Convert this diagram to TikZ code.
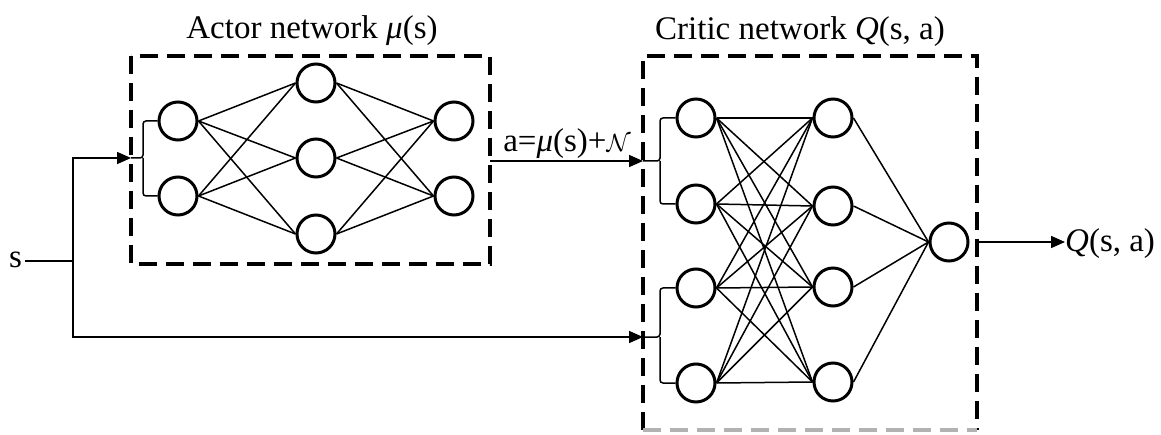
\documentclass[tikz,border=0pt]{standalone}
\usepackage{fontspec}
\setmainfont{Liberation Serif}
\usetikzlibrary{arrows.meta}
\begin{document}
\begin{tikzpicture}[x=1pt,y=-1pt,
  neuron/.style={circle,draw,line width=3pt,minimum size=38pt,inner sep=0pt},
  wire/.style={line width=1.5pt},
  arr/.style={line width=1.5pt,-{Triangle[length=14pt,width=12pt]}},
  dbox/.style={line width=3.4pt,dash pattern=on 18pt off 9pt},
  lbl/.style={font=\fontsize{33}{38}\selectfont,inner sep=0pt,anchor=base}]
\useasboundingbox (0,0) rectangle (1161,435);
% boxes
\draw[dbox] (131,56) rectangle (490,264);
\draw[dbox] (643,430) -- (643,56) -- (977,56) -- (977,430);
\draw[dbox,black!30] (643,430) -- (977,430);
% titles
\node[lbl] (tA) at (312,39) {Actor network \textit{μ}(s)};
\node[lbl] (tC) at (800,40) {Critic network \textit{Q}(s, a)};
% actor nodes
\node[neuron] (ai1) at (178,121) {};
\node[neuron] (ai2) at (178,196) {};
\node[neuron] (ah1) at (316,83) {};
\node[neuron] (ah2) at (316,158) {};
\node[neuron] (ah3) at (316,234) {};
\node[neuron] (ao1) at (454,121) {};
\node[neuron] (ao2) at (454,196) {};
\foreach \i in {1,2}{\foreach \h in {1,2,3}{
  \draw[wire] (ai\i.east) -- (ah\h.west);
  \draw[wire] (ah\h.east) -- (ao\i.west);}}
% critic nodes
\node[neuron] (ci1) at (696,118) {};
\node[neuron] (ci2) at (696,204) {};
\node[neuron] (ci3) at (696,288) {};
\node[neuron] (ci4) at (696,383) {};
\node[neuron] (ch1) at (833,118) {};
\node[neuron] (ch2) at (833,206) {};
\node[neuron] (ch3) at (833,287) {};
\node[neuron] (ch4) at (833,382) {};
\node[neuron] (co) at (949,242) {};
\foreach \i in {1,...,4}{\foreach \h in {1,...,4}{
  \draw[wire] (ci\i.east) -- (ch\h.west);}
  \draw[wire] (ch\i.east) -- (co.west);}
% input s
\node[lbl] (s) at (15.5,268) {s};
\coordinate (sj) at (73,261);
\coordinate (aIn) at (131,158);
\coordinate (aBr) at (143,158);
\coordinate (cIn1) at (643,161);
\coordinate (cBr1) at (660,161);
\coordinate (cIn2) at (643,337);
\coordinate (cBr2) at (660,337);
\coordinate (aOut) at (490,161);
\coordinate (cOut) at (977,242);
\draw[wire] (s.east |- sj) ++(3,0) -- (sj);
\draw[arr] (sj) |- (aIn);
\draw[arr] (sj) |- (cIn2);
% braces
\draw[wire,rounded corners=3pt] (aIn) -- (aBr) |- (ai1.west);
\draw[wire,rounded corners=3pt] (aBr) |- (ai2.west);
\draw[wire,rounded corners=3pt] (cIn1) -- (cBr1) |- (ci1.west);
\draw[wire,rounded corners=3pt] (cBr1) |- (ci2.west);
\draw[wire,rounded corners=3pt] (cIn2) -- (cBr2) |- (ci3.west);
\draw[wire,rounded corners=3pt] (cBr2) |- (ci4.west);
% action
\draw[arr] (aOut) -- (cIn1);
\node[lbl] (act) at (567,152) {a=\textit{μ}(s)+$\mathcal{N}$};
% output
\node[lbl,anchor=base west] (q) at (1065,252) {\textit{Q}(s, a)};
\draw[arr] (cOut) -- (q.west |- cOut);
\end{tikzpicture}
\end{document}
